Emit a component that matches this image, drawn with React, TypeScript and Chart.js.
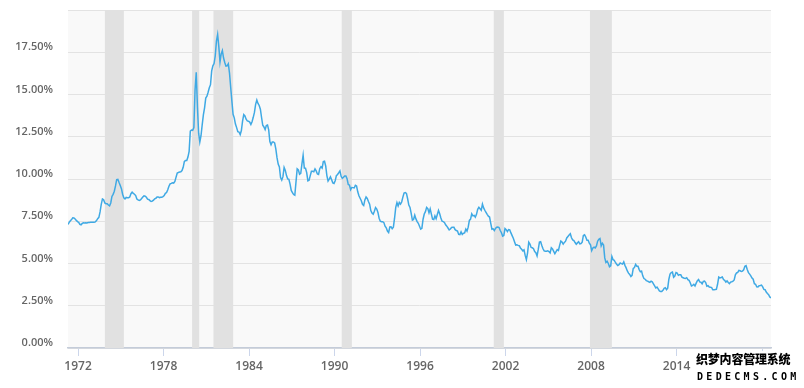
import React, { useEffect, useRef } from "react";
import { Chart, registerables } from "chart.js";

Chart.register(...registerables);

// Monthly 30-year fixed mortgage rate (%), starting April 1971
const START_YEAR = 1971;
const START_MONTH = 4;

const rates1970s = [
  7.31, 7.43, 7.53, 7.6, 7.7, 7.69, 7.63, 7.55, 7.48,
  7.44, 7.32, 7.29, 7.37, 7.41, 7.4, 7.41, 7.4, 7.42, 7.43, 7.44, 7.44,
  7.44, 7.44, 7.46, 7.54, 7.65, 7.73, 8.05, 8.5, 8.82, 8.77, 8.58, 8.54,
  8.54, 8.46, 8.41, 8.58, 8.97, 9.09, 9.28, 9.59, 9.96, 9.98, 9.79, 9.62,
  9.43, 9.1, 8.89, 8.82, 8.91, 8.89, 8.89, 8.94, 9.13, 9.22, 9.15, 9.1,
  9.02, 8.81, 8.76, 8.73, 8.76, 8.85, 8.93, 9.0, 8.98, 8.92, 8.81, 8.79,
  8.72, 8.67, 8.69, 8.75, 8.83, 8.86, 8.94, 8.94, 8.9, 8.92, 8.92, 8.96,
  9.02, 9.15, 9.2, 9.36, 9.57, 9.71, 9.74, 9.78, 9.76, 9.86, 10.11, 10.35,
  10.39, 10.41, 10.43, 10.5, 10.69, 11.04, 11.09, 11.09, 11.3, 11.64, 12.83, 12.9,
];
const rates1980s = [
  12.88, 13.04, 15.28, 16.32, 14.26, 12.71, 12.19, 12.56, 13.2, 13.79, 14.21, 14.79,
  14.9, 15.13, 15.4, 15.58, 16.4, 16.7, 16.83, 17.29, 18.16, 18.55, 17.83, 16.92,
  17.4, 17.6, 17.16, 16.89, 16.68, 16.7, 16.82, 16.27, 15.43, 14.61, 13.83, 13.62,
  13.25, 13.04, 12.8, 12.78, 12.63, 12.87, 13.42, 13.81, 13.73, 13.54, 13.44, 13.42,
  13.37, 13.23, 13.39, 13.65, 13.94, 14.42, 14.67, 14.47, 14.35, 14.13, 13.64, 13.18,
  13.08, 12.92, 13.17, 13.2, 12.91, 12.22, 12.03, 12.19, 12.19, 12.14, 11.78, 11.26,
  10.88, 10.71, 10.08, 9.94, 10.14, 10.68, 10.51, 10.2, 10.01, 9.98, 9.7, 9.32,
  9.2, 9.08, 9.04, 9.83, 10.6, 10.54, 10.28, 10.33, 10.89, 11.4, 10.65, 10.64,
  10.38, 9.89, 9.93, 10.2, 10.46, 10.46, 10.43, 10.6, 10.48, 10.3, 10.27, 10.61,
  10.73, 10.65, 11.03, 11.05, 10.77, 10.2, 9.88, 9.99, 10.13, 9.95, 9.77, 9.74,
];
const rates1990s = [
  9.9, 10.2, 10.27, 10.37, 10.48, 10.16, 10.04, 10.1, 10.18, 10.18, 10.01, 9.67,
  9.64, 9.37, 9.5, 9.49, 9.47, 9.62, 9.58, 9.24, 9.01, 8.86, 8.71, 8.5,
  8.43, 8.76, 8.94, 8.85, 8.67, 8.51, 8.13, 7.98, 7.92, 8.09, 8.31, 8.22,
  8.02, 7.68, 7.5, 7.47, 7.47, 7.42, 7.21, 7.11, 6.92, 6.83, 7.16, 7.17,
  7.06, 7.15, 7.68, 8.32, 8.6, 8.4, 8.61, 8.51, 8.64, 8.93, 9.17, 9.2,
  9.15, 8.83, 8.46, 8.32, 7.96, 7.57, 7.61, 7.86, 7.64, 7.48, 7.38, 7.2,
  7.03, 7.08, 7.62, 7.93, 8.07, 8.32, 8.25, 8.0, 8.23, 7.92, 7.62, 7.6,
  7.82, 7.65, 7.9, 8.14, 7.94, 7.69, 7.5, 7.48, 7.43, 7.29, 7.21, 7.1,
  6.99, 7.04, 7.13, 7.14, 7.14, 7.0, 6.95, 6.92, 6.72, 6.71, 6.87, 6.72,
  6.79, 6.81, 7.04, 6.92, 7.15, 7.55, 7.63, 7.94, 7.82, 7.85, 7.74, 7.91,
];
const rates2000s = [
  8.21, 8.33, 8.24, 8.15, 8.52, 8.29, 8.15, 8.03, 7.91, 7.8, 7.75, 7.38,
  7.03, 7.05, 6.95, 7.08, 7.15, 7.16, 7.13, 6.95, 6.82, 6.62, 6.66, 7.07,
  7.0, 6.89, 7.01, 6.99, 6.81, 6.65, 6.49, 6.29, 6.09, 6.11, 6.07, 6.05,
  5.92, 5.84, 5.75, 5.81, 5.48, 5.23, 5.63, 6.26, 6.15, 5.95, 5.93, 5.88,
  5.71, 5.64, 5.45, 5.83, 6.27, 6.29, 6.06, 5.87, 5.75, 5.72, 5.73, 5.75,
  5.71, 5.63, 5.93, 5.86, 5.72, 5.58, 5.7, 5.82, 5.77, 6.07, 6.33, 6.27,
  6.15, 6.25, 6.32, 6.51, 6.6, 6.68, 6.76, 6.52, 6.4, 6.36, 6.24, 6.14,
  6.22, 6.29, 6.16, 6.18, 6.26, 6.66, 6.7, 6.57, 6.38, 6.38, 6.21, 6.1,
  5.76, 5.92, 5.97, 5.92, 6.04, 6.32, 6.43, 6.48, 6.04, 6.2, 6.09, 5.33,
  5.06, 5.13, 5.0, 4.81, 4.86, 5.42, 5.22, 5.19, 5.06, 4.95, 4.88, 4.93,
];
const rates2010s = [
  5.03, 4.99, 4.97, 5.1, 4.89, 4.74, 4.56, 4.43, 4.35, 4.23, 4.3, 4.71,
  4.76, 4.95, 4.84, 4.84, 4.64, 4.51, 4.55, 4.27, 4.11, 4.07, 3.99, 3.96,
  3.92, 3.89, 3.95, 3.91, 3.8, 3.68, 3.55, 3.6, 3.5, 3.38, 3.35, 3.35,
  3.41, 3.53, 3.57, 3.45, 3.54, 4.07, 4.37, 4.46, 4.49, 4.19, 4.26, 4.46,
  4.43, 4.3, 4.34, 4.34, 4.19, 4.16, 4.13, 4.12, 4.16, 4.04, 4.0, 3.86,
  3.67, 3.71, 3.77, 3.67, 3.84, 3.98, 4.05, 3.91, 3.89, 3.8, 3.94, 3.96,
  3.87, 3.66, 3.69, 3.61, 3.6, 3.57, 3.44, 3.44, 3.46, 3.47, 3.77, 4.2,
  4.15, 4.17, 4.2, 4.05, 4.01, 3.9, 3.97, 3.88, 3.81, 3.9, 3.92, 3.95,
  4.03, 4.33, 4.44, 4.47, 4.59, 4.57, 4.53, 4.55, 4.63, 4.83, 4.87, 4.64,
  4.46, 4.37, 4.27, 4.14, 4.07, 3.8, 3.77, 3.62, 3.61, 3.69, 3.7, 3.72,
];
const rates2020s = [3.62, 3.47, 3.45, 3.31, 3.23, 3.16, 3.02, 2.97];

// Recessions (start, end) as decimal years
const recessionStarts = [1973.88, 1980.0, 1981.5, 1990.5, 2001.17, 2007.92];
const recessionEnds = [1975.21, 1980.5, 1982.88, 1991.21, 2001.88, 2009.46];

const xTickYears = [1972, 1978, 1984, 1990, 1996, 2002, 2008, 2014, 2020];
const yTicks = [0, 2.5, 5, 7.5, 10, 12.5, 15, 17.5, 20];

const allRates = [...rates1970s, ...rates1980s, ...rates1990s, ...rates2000s, ...rates2010s, ...rates2020s];

export default function App() {
  const ref = useRef<HTMLCanvasElement>(null);

  useEffect(() => {
    document.body.style.margin = "0";
    const points = allRates.map((v, i) => ({
      x: START_YEAR + (START_MONTH - 1 + i + 0.5) / 12,
      y: v,
    }));
    const xMin = points[0].x;
    const xMax = points[points.length - 1].x;

    const bgPlugin = {
      id: "bgBands",
      beforeDatasetsDraw(chart: any) {
        const { ctx, chartArea, scales } = chart;
        ctx.save();
        ctx.beginPath();
        ctx.rect(chartArea.left, chartArea.top, chartArea.right - chartArea.left, chartArea.bottom - chartArea.top);
        ctx.clip();
        ctx.fillStyle = "#e1e1e1";
        for (let i = 0; i < recessionStarts.length; i++) {
          const a = scales.x.getPixelForValue(recessionStarts[i]);
          const b = scales.x.getPixelForValue(recessionEnds[i]);
          ctx.fillRect(a, chartArea.top, b - a, chartArea.bottom - chartArea.top);
        }
        ctx.restore();
      },
      beforeDraw(chart: any) {
        const { ctx, chartArea } = chart;
        ctx.save();
        ctx.fillStyle = "#f9f9f9";
        ctx.fillRect(chartArea.left, chartArea.top, chartArea.right - chartArea.left, chartArea.bottom - chartArea.top);
        ctx.restore();
      },
    };

    const chart = new Chart(ref.current!, {
      type: "line",
      data: {
        datasets: [
          {
            data: points,
            borderColor: "#3fa9e4",
            borderWidth: 1.5,
            pointRadius: 0,
            tension: 0,
            fill: false,
          },
        ],
      },
      plugins: [bgPlugin],
      options: {
        animation: false,
        responsive: false,
        maintainAspectRatio: false,
        layout: { padding: { top: 10, right: 33, left: 0, bottom: 0 } },
        plugins: { legend: { display: false }, tooltip: { enabled: false } },
        scales: {
          x: {
            type: "linear",
            min: xMin,
            max: xMax,
            afterBuildTicks(scale: any) {
              scale.ticks = xTickYears.map((v) => ({ value: v }));
            },
            afterFit(scale: any) {
              scale.height = 40;
            },
            grid: {
              drawOnChartArea: false,
              drawTicks: true,
              tickLength: 8,
              color: "#ccd6eb",
            },
            border: { display: true, color: "#c4ccd9", width: 1.5 },
            ticks: {
              color: "#666666",
              font: { family: "'Open Sans', sans-serif", size: 12, weight: "600" as any },
              padding: 3,
              maxRotation: 0,
              autoSkip: false,
              callback: (v: any) => String(v),
            },
          },
          y: {
            min: 0,
            max: 20,
            afterBuildTicks(scale: any) {
              scale.ticks = yTicks.map((v) => ({ value: v }));
            },
            afterFit(scale: any) {
              scale.width = 68;
            },
            grid: { color: "#e3e3e3", drawTicks: true, tickLength: 15, tickColor: "rgba(0,0,0,0)" },
            border: { display: false },
            ticks: {
              color: "#666666",
              font: { family: "'Open Sans', sans-serif", size: 11, weight: "600" as any },
              padding: 0,
              labelOffset: -5,
              callback: (v: any) => (v === 20 ? "" : Number(v).toFixed(2) + "%"),
            },
          },
        },
      },
    });
    return () => chart.destroy();
  }, []);

  const outline =
    "-1px -1px 0 #fff, 1px -1px 0 #fff, -1px 1px 0 #fff, 1px 1px 0 #fff, 0 1px 0 #fff, 0 -1px 0 #fff, 1px 0 0 #fff, -1px 0 0 #fff";

  return (
    <div style={{ position: "relative", width: 804, height: 388, background: "#fff" }}>
      <canvas ref={ref} width={804} height={388} style={{ display: "block", width: 804, height: 388 }} />
      <div
        style={{
          position: "absolute",
          left: 695,
          top: 351,
          width: 97,
          height: 36,
          background: "#fff",
        }}
      >
        <div
          style={{
            position: "absolute",
            left: 1,
            top: 0,
            fontFamily: "'Noto Sans CJK SC', sans-serif",
            fontWeight: 900,
            fontSize: 12,
            lineHeight: "16px",
            color: "#000",
            letterSpacing: -0.2,
            textShadow: outline,
            whiteSpace: "nowrap",
          }}
        >
          织梦内容管理系统
        </div>
        <div
          style={{
            position: "absolute",
            left: 2,
            top: 19,
            fontFamily: "'DejaVu Sans Mono', monospace",
            fontWeight: 700,
            fontSize: 10,
            lineHeight: "14px",
            color: "#000",
            letterSpacing: 3.3,
            textShadow: outline,
            whiteSpace: "nowrap",
          }}
        >
          DEDECMS.COM
        </div>
      </div>
    </div>
  );
}
